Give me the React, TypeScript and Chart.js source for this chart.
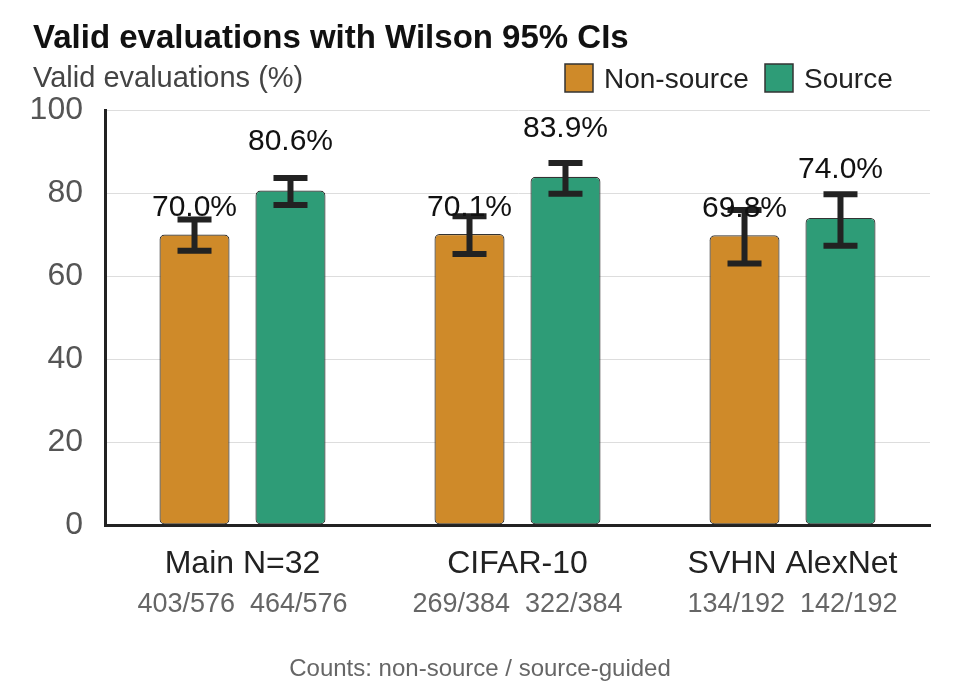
import React, { useEffect, useRef } from "react";
import { Chart, registerables } from "chart.js";

Chart.register(...registerables);

const categories = ["Main N=32", "CIFAR-10", "SVHN AlexNet"];
const seriesNames = ["Non-source", "Source"];
const nonSourceValues = [70.0, 70.1, 69.8];
const sourceValues = [80.6, 83.9, 74.0];
const nonSourceLow = [66.1, 65.3, 63.0];
const nonSourceHigh = [73.6, 74.4, 75.9];
const sourceLow = [77.1, 79.8, 67.3];
const sourceHigh = [83.6, 87.2, 79.7];
const nonSourceCounts = ["403/576", "269/384", "134/192"];
const sourceCounts = ["464/576", "322/384", "142/192"];
const yTickValues = [0, 20, 40, 60, 80, 100];

const COLORS = ["#CF8A29", "#2E9C77"];
const FONT = '"Liberation Sans", Arial, Helvetica, sans-serif';
const LABEL_OFFSETS = [4.4, 9.7];

const overlay = {
  id: "overlay",
  afterDatasetsDraw(chart: any) {
    const ctx = chart.ctx;
    const ys = chart.scales.y;
    const lows = [nonSourceLow, sourceLow];
    const highs = [nonSourceHigh, sourceHigh];
    const vals = [nonSourceValues, sourceValues];
    chart.data.datasets.forEach((_: any, di: number) => {
      const meta = chart.getDatasetMeta(di);
      meta.data.forEach((bar: any, i: number) => {
        const yl = ys.getPixelForValue(lows[di][i]);
        const yh = ys.getPixelForValue(highs[di][i]);
        ctx.save();
        ctx.strokeStyle = "#222";
        ctx.lineWidth = 6;
        ctx.lineCap = "butt";
        ctx.beginPath();
        ctx.moveTo(bar.x, yl);
        ctx.lineTo(bar.x, yh);
        ctx.moveTo(bar.x - 17, yl);
        ctx.lineTo(bar.x + 17, yl);
        ctx.moveTo(bar.x - 17, yh);
        ctx.lineTo(bar.x + 17, yh);
        ctx.stroke();
        ctx.restore();
      });
    });
    chart.data.datasets.forEach((_: any, di: number) => {
      const meta = chart.getDatasetMeta(di);
      meta.data.forEach((bar: any, i: number) => {
        const v = vals[di][i];
        ctx.save();
        ctx.fillStyle = "#111";
        ctx.font = `30px ${FONT}`;
        ctx.textAlign = "center";
        ctx.textBaseline = "alphabetic";
        ctx.fillText(v.toFixed(1) + "%", bar.x, ys.getPixelForValue(v + LABEL_OFFSETS[di]));
        ctx.restore();
      });
    });
  },
  afterDraw(chart: any) {
    const ctx = chart.ctx;
    const xs = chart.scales.x;
    ctx.save();
    // title
    ctx.fillStyle = "#111";
    ctx.font = `bold 33px ${FONT}`;
    ctx.textAlign = "left";
    ctx.textBaseline = "alphabetic";
    ctx.fillText("Valid evaluations with Wilson 95% CIs", 33, 48);
    // y title
    ctx.fillStyle = "#444";
    ctx.font = `29px ${FONT}`;
    ctx.fillText("Valid evaluations (%)", 33, 87);
    // legend
    const legendX = [565, 765];
    seriesNames.forEach((name, i) => {
      ctx.fillStyle = COLORS[i];
      ctx.fillRect(legendX[i], 64, 28, 28);
      ctx.strokeStyle = "#333";
      ctx.lineWidth = 1.5;
      ctx.strokeRect(legendX[i], 64, 28, 28);
      ctx.fillStyle = "#222";
      ctx.font = `28px ${FONT}`;
      ctx.textAlign = "left";
      ctx.fillText(name, legendX[i] + 39, 88);
    });
    // category labels
    ctx.textAlign = "center";
    ctx.fillStyle = "#222";
    ctx.font = `32px ${FONT}`;
    categories.forEach((c, i) => {
      ctx.fillText(c, xs.getPixelForValue(i), 573);
    });
    // counts
    ctx.fillStyle = "#666";
    ctx.font = `27px ${FONT}`;
    categories.forEach((_, i) => {
      ctx.fillText(nonSourceCounts[i] + "  " + sourceCounts[i], xs.getPixelForValue(i), 612);
    });
    // footer
    ctx.fillStyle = "#666";
    ctx.font = `24px ${FONT}`;
    ctx.fillText("Counts: non-source / source-guided", 480, 676);
    ctx.restore();
  },
};

export default function App() {
  const ref = useRef<HTMLCanvasElement | null>(null);
  useEffect(() => {
    if (!ref.current) return;
    const chart = new Chart(ref.current, {
      type: "bar",
      data: {
        labels: categories,
        datasets: [
          {
            label: seriesNames[0],
            data: nonSourceValues,
            backgroundColor: COLORS[0],
            borderColor: "#333",
            borderWidth: 1.2,
            borderRadius: 5,
            borderSkipped: false,
            categoryPercentage: 0.698,
            barPercentage: 0.73,
          },
          {
            label: seriesNames[1],
            data: sourceValues,
            backgroundColor: COLORS[1],
            borderColor: "#333",
            borderWidth: 1.2,
            borderRadius: 5,
            borderSkipped: false,
            categoryPercentage: 0.698,
            barPercentage: 0.73,
          },
        ],
      },
      options: {
        responsive: false,
        animation: false,
        layout: { padding: { top: 110, right: 30, left: 0, bottom: 0 } },
        plugins: {
          legend: { display: false },
          title: { display: false },
          tooltip: { enabled: false },
        },
        scales: {
          x: {
            grid: { display: false },
            border: { display: true, color: "#222", width: 3 },
            ticks: { display: false },
            afterFit: (s: any) => {
              s.height = 175;
            },
          },
          y: {
            min: 0,
            max: 100,
            afterBuildTicks: (s: any) => {
              s.ticks = yTickValues.map((v) => ({ value: v }));
            },
            grid: { color: "#dddddd", lineWidth: 1, drawTicks: false },
            border: { display: true, color: "#222", width: 3 },
            ticks: {
              color: "#555",
              font: { family: FONT, size: 32 },
              padding: 22,
            },
            afterFit: (s: any) => {
              s.width = 105;
            },
          },
        },
      },
      plugins: [overlay],
    });
    return () => chart.destroy();
  }, []);
  return (
    <div style={{ position: "absolute", left: 0, top: 0, width: 960, height: 700, background: "#fff" }}>
      <canvas ref={ref} width={960} height={700} style={{ display: "block" }} />
    </div>
  );
}
